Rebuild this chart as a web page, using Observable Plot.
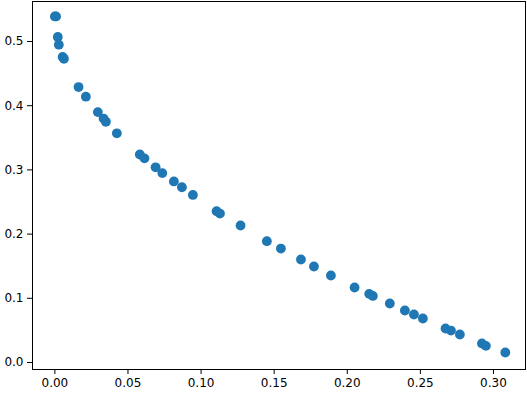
<!DOCTYPE html>
<html>
<head>
<meta charset="utf-8">
<script src="https://cdn.jsdelivr.net/npm/d3@7"></script>
<script src="https://cdn.jsdelivr.net/npm/@observablehq/plot@0.6"></script>
<style>
  html, body { margin: 0; padding: 0; background: #fff; }
</style>
</head>
<body>
<div id="chart"></div>
<script>
const xValues = [0.0, 0.0008, 0.002, 0.0027, 0.0053, 0.0062, 0.0162, 0.0212, 0.0294, 0.0333, 0.0349, 0.0424,
  0.0581, 0.0613, 0.0689, 0.0735, 0.0814, 0.0869, 0.0944, 0.1106, 0.1129, 0.127, 0.145, 0.1546, 0.1683,
  0.1772, 0.1888, 0.205, 0.215, 0.2175, 0.2291, 0.2394, 0.2456, 0.2517, 0.2672, 0.2709, 0.277, 0.2921,
  0.2948, 0.3081];
const yValues = [0.539, 0.539, 0.507, 0.495, 0.476, 0.473, 0.429, 0.414, 0.390, 0.380, 0.375, 0.357,
  0.324, 0.318, 0.304, 0.295, 0.282, 0.273, 0.261, 0.2357, 0.232, 0.2134, 0.189, 0.1775, 0.1604,
  0.1495, 0.1355, 0.1168, 0.1069, 0.1037, 0.0919, 0.0810, 0.0748, 0.0685, 0.0530, 0.0498, 0.0436, 0.0296,
  0.0259, 0.0156];
const xTicks = [0.00, 0.05, 0.10, 0.15, 0.20, 0.25, 0.30];
const yTicks = [0.0, 0.1, 0.2, 0.3, 0.4, 0.5];

const data = xValues.map((x, i) => ({x, y: yValues[i]}));

const chart = Plot.plot({
  width: 527,
  height: 393,
  marginLeft: 32,
  marginRight: 2,
  marginTop: 1,
  marginBottom: 24,
  style: {fontFamily: "DejaVu Sans", fontSize: "12px", color: "#000", background: "#fff"},
  x: {domain: [-0.0153, 0.3219]},
  y: {domain: [-0.0109, 0.5623]},
  marks: [
    Plot.axisX({ticks: xTicks, tickFormat: d3.format(".2f"), tickSize: 5, tickPadding: 4, label: null, fontSize: 12}),
    Plot.axisY({ticks: yTicks, tickFormat: d3.format(".1f"), tickSize: 5, tickPadding: 4, label: null, fontSize: 12}),
    Plot.dot(data, {x: "x", y: "y", r: 4.9, fill: "#1f77b4", stroke: "none"}),
    Plot.frame({stroke: "#000", strokeWidth: 1})
  ]
});
document.getElementById("chart").appendChild(chart);
</script>
</body>
</html>
